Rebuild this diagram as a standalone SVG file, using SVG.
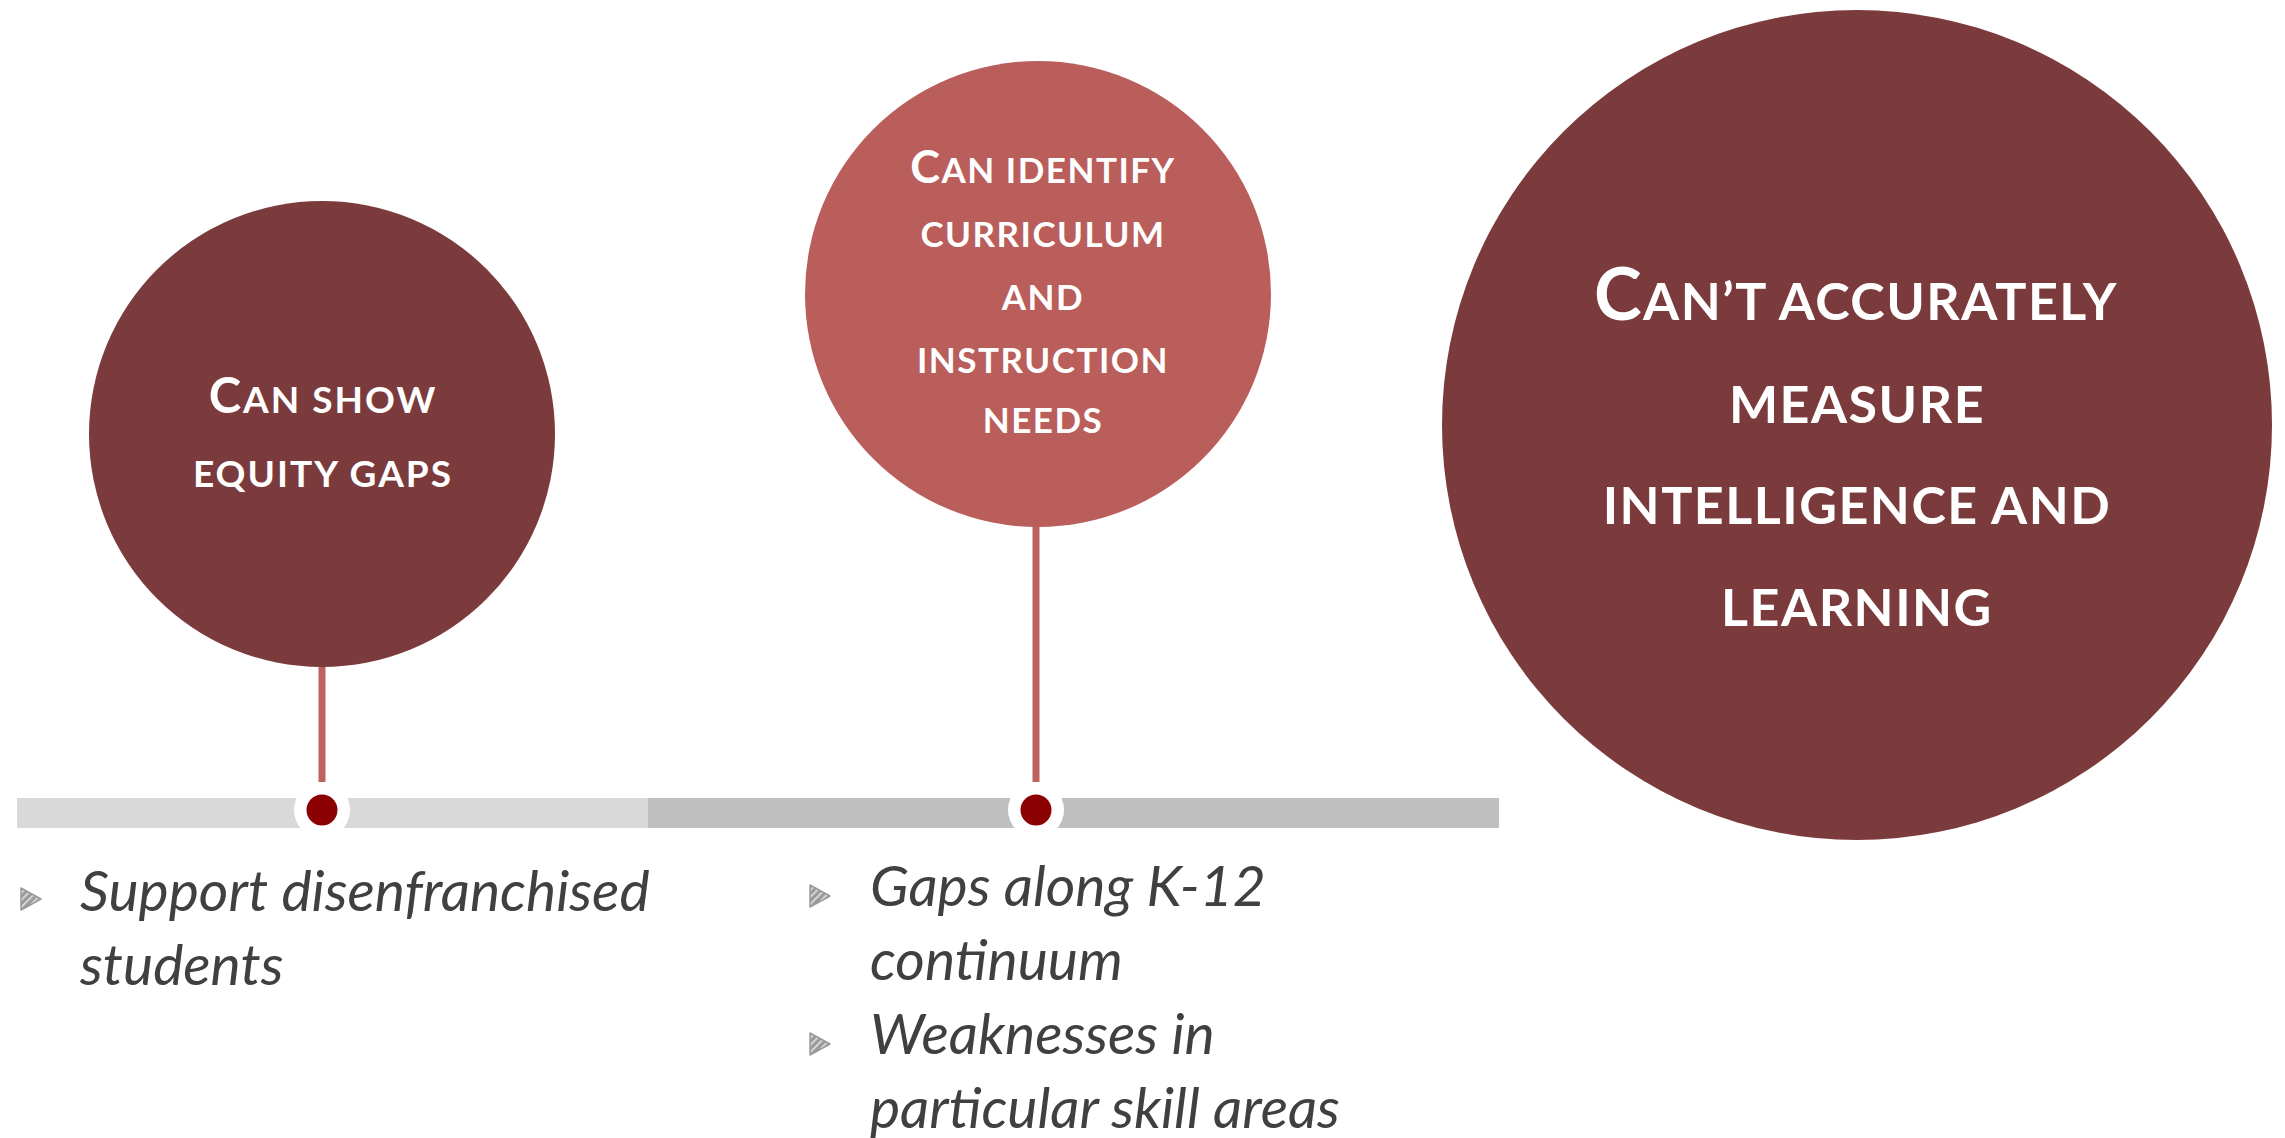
<svg xmlns="http://www.w3.org/2000/svg" width="2285" height="1138" viewBox="0 0 2285 1138">
<style>
.ctext{font-family:Lato,"Liberation Sans",sans-serif;font-weight:700;fill:#ffffff;text-anchor:middle}
.c1{font-size:37px;letter-spacing:2px}
.c2{font-size:35px;letter-spacing:1.5px}
.c3{font-size:52px;letter-spacing:1.5px}
.btext{font-family:Lato,"Liberation Sans",sans-serif;font-style:italic;font-size:57px;fill:#404040}
.stem{stroke:#BF615F;stroke-width:7}
.dot{fill:#8B0000}
.halo{fill:#ffffff}
</style>
<defs>
<pattern id="hatch" patternUnits="userSpaceOnUse" width="5" height="5" patternTransform="rotate(-45)">
<rect width="5" height="5" fill="#9A9A9A"/>
<rect width="5" height="1.6" fill="#E0E0E0"/>
</pattern>
<symbol id="bullet" viewBox="0 0 24 24" overflow="visible">
<path d="M2,1 L22,12 L2,23 Z" fill="url(#hatch)" stroke="#9A9A9A" stroke-width="1.5" stroke-linejoin="round"/>
</symbol>
</defs>
<rect width="2285" height="1138" fill="#ffffff"/>
<g id="timeline">
<rect x="17" y="798" width="632" height="30" fill="#D9D9D9"/>
<rect x="648" y="798" width="851" height="30" fill="#BFBFBF"/>
</g>
<g id="connectors">
<line class="stem" x1="322" y1="660" x2="322" y2="782"/>
<line class="stem" x1="1036" y1="520" x2="1036" y2="782"/>
</g>
<g id="node1">
<circle cx="322" cy="434" r="233" fill="#7B3B3C"/>
<text class="ctext c1" x="323" y="413"><tspan font-size="49">C</tspan>AN SHOW</text>
<text class="ctext c1" x="323" y="487">EQUITY GAPS</text>
</g>
<g id="node2">
<circle cx="1038" cy="294" r="233" fill="#B95E5B"/>
<text class="ctext c2" x="1043" y="183"><tspan font-size="45">C</tspan>AN IDENTIFY</text>
<text class="ctext c2" x="1043" y="247">CURRICULUM</text>
<text class="ctext c2" x="1043" y="310">AND</text>
<text class="ctext c2" x="1043" y="373">INSTRUCTION</text>
<text class="ctext c2" x="1043" y="433">NEEDS</text>
</g>
<g id="node3">
<circle cx="1857" cy="425" r="415" fill="#7B3B3C"/>
<text class="ctext c3" x="1856" y="320"><tspan font-size="72">C</tspan>AN’T ACCURATELY</text>
<text class="ctext c3" x="1857" y="423">MEASURE</text>
<text class="ctext c3" x="1857" y="524">INTELLIGENCE AND</text>
<text class="ctext c3" x="1857" y="626">LEARNING</text>
</g>
<g id="dot1">
<circle class="halo" cx="322" cy="810" r="28"/>
<circle class="dot" cx="322" cy="810" r="15.5"/>
</g>
<g id="dot2">
<circle class="halo" cx="1036" cy="810" r="28"/>
<circle class="dot" cx="1036" cy="810" r="15.5"/>
</g>
<g id="bullets1">
<use href="#bullet" x="19" y="887" width="24" height="24"/>
<text class="btext" x="80" y="911">Support disenfranchised</text>
<text class="btext" x="80" y="985">students</text>
</g>
<g id="bullets2">
<use href="#bullet" x="808" y="884" width="24" height="24"/>
<text class="btext" x="870" y="906">Gaps along K-12</text>
<text class="btext" x="870" y="980">continuum</text>
<use href="#bullet" x="808" y="1032" width="24" height="24"/>
<text class="btext" x="870" y="1054">Weaknesses in</text>
<text class="btext" x="870" y="1128">particular skill areas</text>
</g>
</svg>
